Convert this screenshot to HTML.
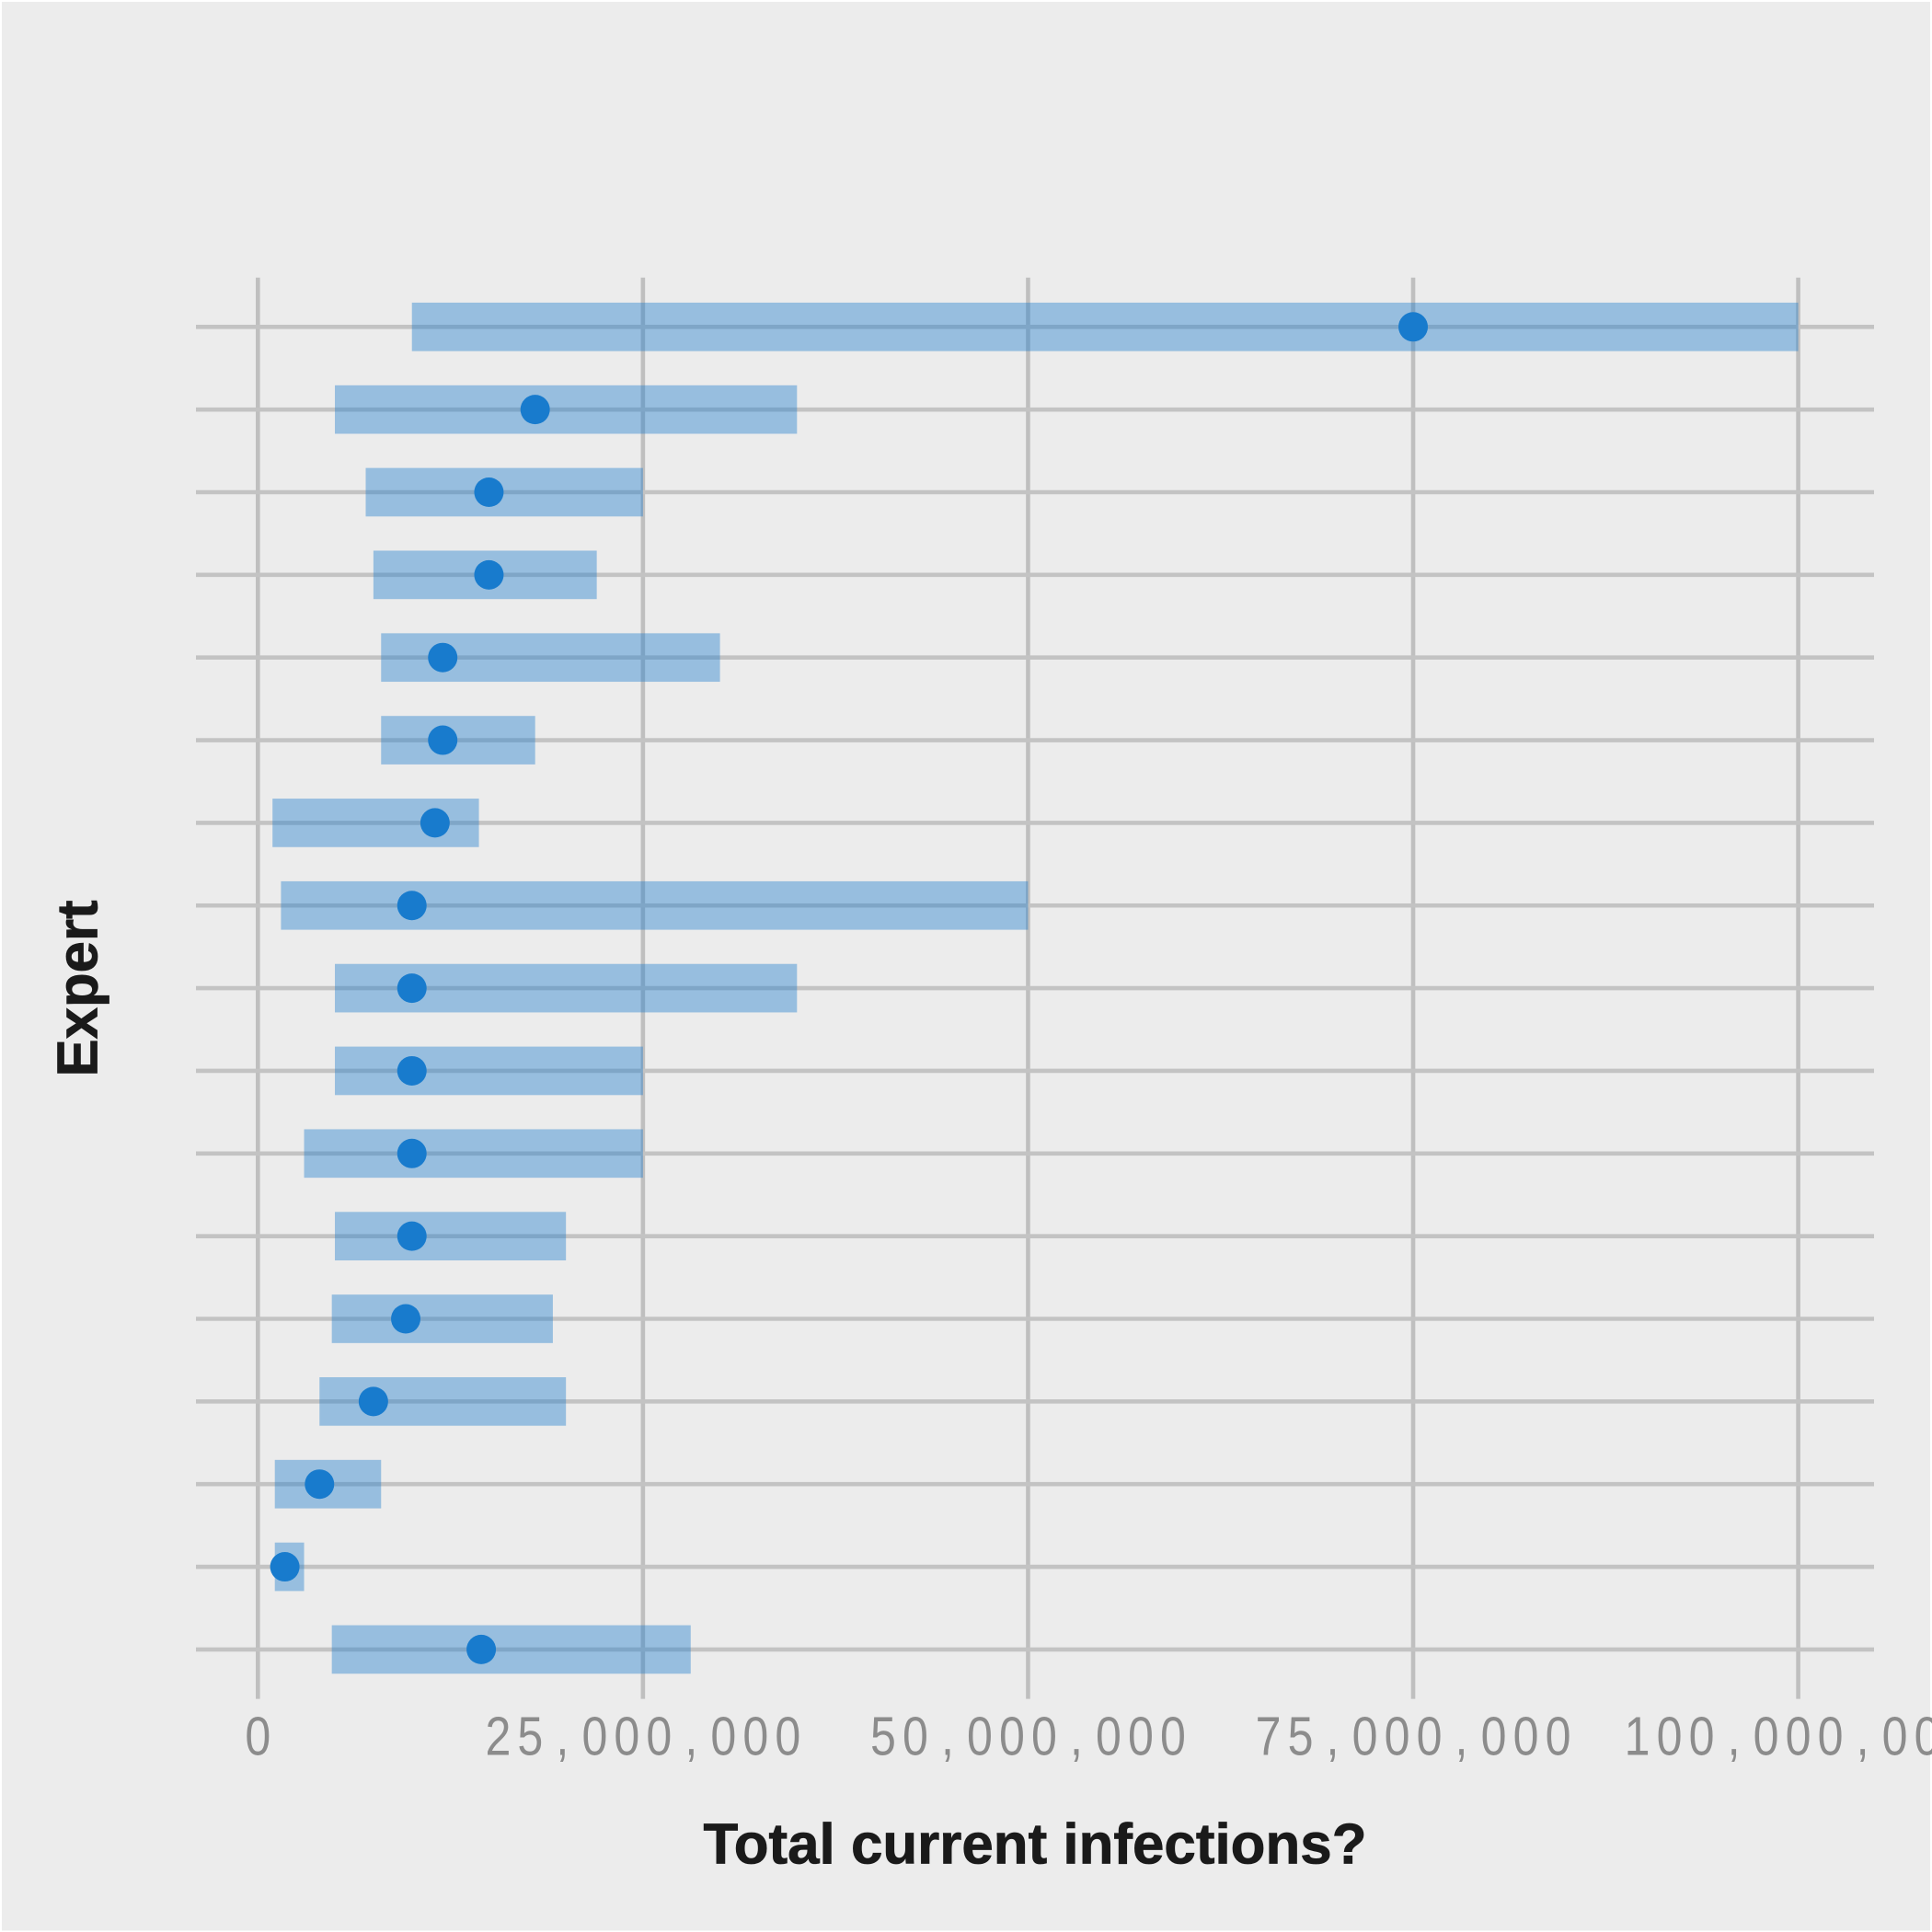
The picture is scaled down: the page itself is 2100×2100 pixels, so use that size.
<!DOCTYPE html>
<html lang="en">
<head>
<meta charset="utf-8">
<title>Total current infections by expert</title>
<style>
  html, body { margin: 0; padding: 0; background: #fff; width: 2100px; height: 2100px; overflow: hidden; }
  svg { display: block; }
</style>
</head>
<body>
<svg id="chart" xmlns="http://www.w3.org/2000/svg" width="2100" height="2100" viewBox="0 0 2100 2100">
  <rect x="2" y="2" width="2096" height="2096.5" fill="#ececec"/>
  <g id="grid-vertical"></g>
  <g id="grid-horizontal"></g>
  <g id="bars"></g>
  <g id="points"></g>
  <g id="x-ticks"></g>
  <text x="1125" y="2025.5" text-anchor="middle" textLength="721" lengthAdjust="spacingAndGlyphs" font-family="'Liberation Sans', sans-serif" font-weight="700" font-size="62" fill="#1a1a1a" stroke="#1a1a1a" stroke-width="0.8">Total current infections?</text>
  <text transform="translate(105.5,1074.5) rotate(-90)" text-anchor="middle" textLength="192" lengthAdjust="spacingAndGlyphs" font-family="'Liberation Sans', sans-serif" font-weight="700" font-size="62" fill="#1a1a1a" stroke="#1a1a1a" stroke-width="0.8">Expert</text>
</svg>
<script>
const experts = ["A","B","C","D","E","F","G","H","I","J","K","L","M","N","O","P","Q"];
const lowEstimates = [10000000,5000000,7000000,7500000,8000000,8000000,950000,1500000,5000000,5000000,3000000,5000000,4800000,4000000,1100000,1100000,4800000];
const midEstimates = [75000000,18000000,15000000,15000000,12000000,12000000,11500000,10000000,10000000,10000000,10000000,10000000,9600000,7500000,4000000,1750000,14500000];
const highEstimates = [100000000,35000000,25000000,22000000,30000000,18000000,14350000,50000000,35000000,25000000,25000000,20000000,19150000,20000000,8000000,3000000,28100000];
const tickValues = [0,25000000,50000000,75000000,100000000];
const tickLabels = ["0","25,000,000","50,000,000","75,000,000","100,000,000"];

const NS = "http://www.w3.org/2000/svg";
function xScale(v) { return 280.3 + (v / 100000000) * 1674.3; }
function yScale(i) { return 355.3 + i * 89.85; }
function make(tag, attrs, parent) {
  const el = document.createElementNS(NS, tag);
  for (const k in attrs) el.setAttribute(k, attrs[k]);
  parent.appendChild(el);
  return el;
}

const gridV = document.getElementById("grid-vertical");
const gridH = document.getElementById("grid-horizontal");
const bars = document.getElementById("bars");
const points = document.getElementById("points");
const xTicks = document.getElementById("x-ticks");

const TICK_PITCH = 35;
const TICK_SQUEEZE = 0.85;

tickValues.forEach(function (t, i) {
  const line = make("line", { x1: xScale(t), x2: xScale(t), y1: 301.7, y2: 1846.6, stroke: "#bfbfbf", "stroke-width": 4.6 }, gridV);
  
  

  const str = tickLabels[i];
  const charX = [];
  for (let j = 0; j < str.length; j++) {
    charX.push(((j - (str.length - 1) / 2) * TICK_PITCH) / TICK_SQUEEZE);
  }
  const label = make("text", {
    transform: "translate(" + xScale(t) + ",1907.5) scale(" + TICK_SQUEEZE + ",1)",
    x: charX.join(" "),
    "text-anchor": "middle",
    "font-family": "'Liberation Sans', sans-serif",
    "font-size": 59,
    fill: "#8c8c8c"
  }, xTicks);
  
  
  label.textContent = str;
});

experts.forEach(function (name, i) {
  const y = yScale(i);
  const line = make("line", { x1: 213, x2: 2037, y1: y, y2: y, stroke: "#c3c3c3", "stroke-width": 4.6 }, gridH);
  
  

  const bar = make("rect", {
    x: xScale(lowEstimates[i]),
    y: y - 26.35,
    width: xScale(highEstimates[i]) - xScale(lowEstimates[i]),
    height: 52.7,
    fill: "#187bcd",
    "fill-opacity": 0.4
  }, bars);
  
  

  const dot = make("circle", { cx: xScale(midEstimates[i]), cy: y, r: 16, fill: "#187bcd" }, points);
  
  
});
</script>
</body>
</html>
